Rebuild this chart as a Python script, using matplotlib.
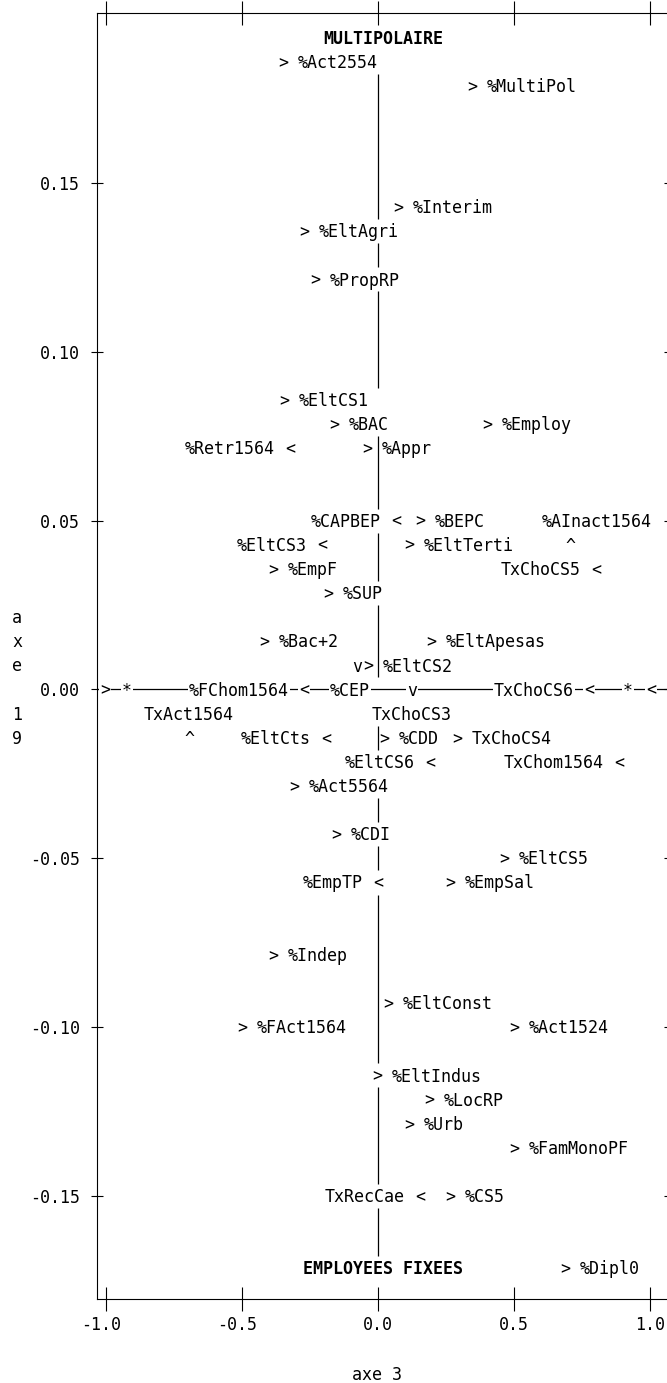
import matplotlib
matplotlib.use('Agg')
import matplotlib.pyplot as plt
import matplotlib.transforms as mtransforms

# ── DATA ────────────────────────────────────────────────────────────────────
# variables on axe 3 (x) / axe 1 (y); pointer = symbol printed at the point
names = ['%Act2554', '%MultiPol', '%Interim', '%EltAgri', '%PropRP',
         '%EltCS1', '%BAC', '%Employ', '%Retr1564', '%Appr',
         '%CAPBEP', '%BEPC', '%AInact1564', '%EltCS3', '%EltTerti',
         '%EmpF', 'TxChoCS5', '%SUP', '%Bac+2', '%EltApesas',
         '%CEP', '%EltCS2', '', '', '%FChom1564',
         'TxChoCS3', 'TxChoCS6', '', '', 'TxAct1564',
         '%EltCts', '%CDD', 'TxChoCS4', '%EltCS6', 'TxChom1564',
         '%Act5564', '%CDI', '%EltCS5', '%EmpTP', '%EmpSal',
         '%Indep', '%EltConst', '%FAct1564', '%Act1524', '%EltIndus',
         '%LocRP', '%Urb', '%FamMonoPF', 'TxRecCae', '%CS5',
         '%Dipl0']
axe3 = [-0.349, 0.346, 0.074, -0.272, -0.232,
        -0.346, -0.162, 0.401, -0.324, -0.040,
        0.066, 0.154, 0.706, -0.206, 0.114,
        -0.386, 0.801, -0.184, -0.419, 0.195,
        -0.077, -0.037, -1.004, -0.923, -0.272,
        0.125, 0.776, 0.919, 1.004, -0.695,
        -0.191, 0.022, 0.290, 0.191, 0.886,
        -0.309, -0.154, 0.463, 0.000, 0.265,
        -0.386, 0.037, -0.500, 0.500, -0.004,
        0.188, 0.114, 0.500, 0.154, 0.265,
        0.688]
axe1 = [0.1857, 0.1786, 0.1429, 0.1357, 0.1214,
        0.0857, 0.0786, 0.0786, 0.0714, 0.0714,
        0.0500, 0.0500, 0.0429, 0.0429, 0.0429,
        0.0357, 0.0357, 0.0286, 0.0143, 0.0143,
        0.0071, 0.0071, 0.0, 0.0, 0.0,
        0.0, 0.0, 0.0, 0.0, -0.0143,
        -0.0143, -0.0143, -0.0143, -0.0214, -0.0214,
        -0.0286, -0.0429, -0.0500, -0.0571, -0.0571,
        -0.0786, -0.0929, -0.1000, -0.1000, -0.1143,
        -0.1214, -0.1286, -0.1357, -0.1500, -0.1500,
        -0.1714]
pointers = ['>', '>', '>', '>', '>',
            '>', '>', '>', '<', '>',
            '<', '>', '^', '<', '>',
            '>', '<', '>', '>', '>',
            'v', '>', '>', '*', '<',
            'v', '<', '*', '<', '^',
            '<', '>', '>', '<', '<',
            '>', '>', '>', '<', '>',
            '>', '>', '>', '>', '>',
            '>', '>', '>', '<', '>',
            '>']

pole_names = ['MULTIPOLAIRE', 'EMPLOYEES FIXEES']
pole_axe3 = [0.02, 0.02]
pole_axe1 = [0.1929, -0.1714]

x_ticks = [-1.0, -0.5, 0.0, 0.5, 1.0]
y_ticks = [-0.15, -0.10, -0.05, 0.0, 0.05, 0.10, 0.15]

ROW = 0.05 / 7   # one printer line on axe 1
# printer lines where the vertical reference at axe 3 = 0 is overprinted
zero_line_breaks = [27, 26, 19, 17, 12, 11, 7, 4, 0, -1, -3, -4, -6, -8,
                    -16, -21, -24]
label_nudge = {'%CEP': -0.7, '%AInact1564': 2.7}   # in characters

# ── STYLE ───────────────────────────────────────────────────────────────────
FONT = 'DejaVu Sans Mono'
FS = 12
CW = 0.602 * FS            # character width, points
HALF_CAP = 0.729 * FS / 2  # half cap height, points

plt.rcParams.update({
    'font.family': FONT,
    'font.size': FS,
    'axes.linewidth': 0.8,
})

fig = plt.figure(figsize=(6.67, 13.83), dpi=100)
ax = fig.add_axes([0.1447, 0.06074, 0.8598, 0.93022])
ax.set_xlim(-1.0349, 1.0735)
ax.set_ylim(-0.18049, 0.20047)
ax.spines['right'].set_visible(False)


def put(x, y, s, ha='left', dx=0.0, bold=False, base=None):
    tr = mtransforms.offset_copy(base if base is not None else ax.transData,
                                 fig=fig, x=dx, y=-HALF_CAP, units='points')
    kw = {}
    if base is None and round(y / ROW) == 0:
        kw['bbox'] = dict(boxstyle='square,pad=0.08', fc='white', ec='none')
    ax.text(x, y, s, transform=tr, ha=ha, va='baseline', fontsize=FS,
            fontweight='bold' if bold else 'normal', color='black',
            zorder=3, clip_on=False, **kw)


# ── REFERENCE LINES ─────────────────────────────────────────────────────────
ax.axhline(0, color='black', lw=0.9, zorder=1)
visible = [r for r in range(27, -25, -1) if r not in zero_line_breaks]
runs = []
for r in visible:
    if runs and runs[-1][-1] == r + 1:
        runs[-1].append(r)
    else:
        runs.append([r])
for run in runs:
    ax.vlines(0, (run[-1] - 0.5) * ROW, (run[0] + 0.5) * ROW,
              color='black', lw=0.9, zorder=1)

# ── POINTS AND LABELS ───────────────────────────────────────────────────────
for name, x, y, p in zip(names, axe3, axe1, pointers):
    put(x, y, p, ha='center')
    if not name:
        continue
    nudge = label_nudge.get(name, 0.0) * CW
    if p == '>':
        put(x, y, name, ha='left', dx=1.5 * CW)
    elif p == '<':
        put(x, y, name, ha='right', dx=-1.5 * CW)
    elif p == '^':
        put(x, y + ROW, name, ha='center', dx=nudge)
    elif p == 'v':
        put(x, y - ROW, name, ha='center', dx=nudge)

for name, x, y in zip(pole_names, pole_axe3, pole_axe1):
    put(x, y, name, ha='center', bold=True)

# ── AXES ────────────────────────────────────────────────────────────────────
ax.set_xticks(x_ticks)
ax.set_xticklabels([f'{v:.1f}' for v in x_ticks])
ax.set_yticks(y_ticks)
ax.set_yticklabels([f'{v:.2f}' for v in y_ticks])
ax.tick_params(axis='x', direction='inout', length=17, width=0.8,
               top=True, bottom=True, labelsize=FS, pad=3.5)
ax.tick_params(axis='y', direction='inout', length=8.6, width=0.8,
               left=True, right=True, labelsize=FS, pad=7.6)
# printer style: decimal point under the tick
for lbl in ax.get_xticklabels():
    if lbl.get_text().startswith('-'):
        lbl.set_transform(lbl.get_transform() +
                          mtransforms.ScaledTranslation(-CW / 2 / 72, 0,
                                                        fig.dpi_scale_trans))

ax.set_xlabel('axe 3', fontsize=FS)
ax.xaxis.set_label_coords(0.4891, -0.0521)

# vertical axis title, one character per printer line
ylab_base = mtransforms.blended_transform_factory(fig.transFigure, ax.transData)
for i, ch in enumerate('axe 19'):
    put(17 / 667, (3 - i) * ROW, ch, ha='center', base=ylab_base)

fig.savefig('out.png', dpi=100, facecolor='white')
plt.close(fig)
